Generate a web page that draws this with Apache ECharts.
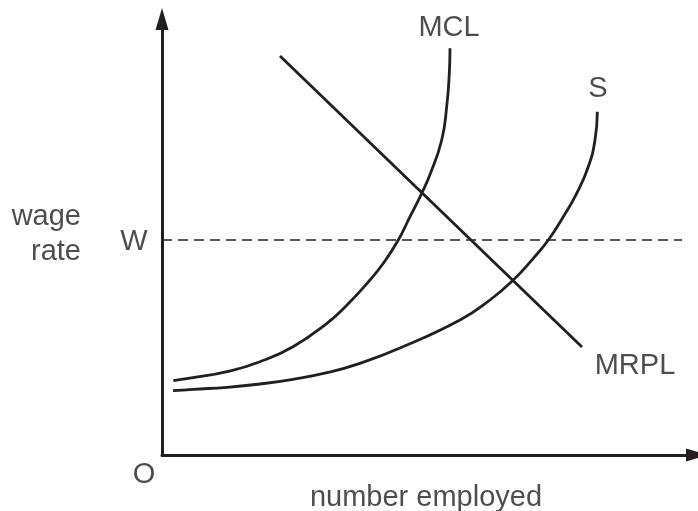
<!DOCTYPE html>
<html>
<head>
<meta charset="utf-8">
<script src="https://cdn.jsdelivr.net/npm/echarts@6/dist/echarts.min.js"></script>
<style>
html,body{margin:0;padding:0;background:#fff;}
#chart{width:698px;height:511px;}
</style>
</head>
<body>
<div id="chart"></div>
<script>
// Schematic units: x = number employed, y = wage rate
var mclCurve = [[2.26,14.86],[6.2,15.46],[13,16.66],[19.6,18.66],[26.2,21.66],[33,26.34],[37,30],[41.6,35],[44.26,38.34],[47.26,43],[49.6,47.66],[51.94,52.34],[53.7,56.34],[55.94,63],[56.94,69.66],[57.46,76.34],[57.6,81.34]];
var sCurve = [[2.2,12.86],[6.2,13.14],[13,13.54],[19.6,14.2],[26.2,15.14],[33,16.46],[39.6,18.34],[47.6,21.4],[59.6,27],[65.6,31],[70.26,35],[74.26,39.34],[77.26,43],[80.26,47.66],[82.94,52.34],[85.26,57.66],[86.6,63],[87.06,68.66]];
var mrplLine = [[23.6,79.8],[84,21.6]];
var wageW = 43;
var wageLineX = [0, 104];
var labelTexts = ['MCL','S','MRPL','W','O','number employed','wage\nrate'];
var labelPos = [[57.4,85.4],[87.2,73.2],[94.6,17.8],[-5.6,42.6],[-3.6,-4],[52.8,-8.6],[-16.2,44.1]];

var ink = '#231f20';
var chart = echarts.init(document.getElementById('chart'));

var labelData = labelTexts.map(function(t, i){
  var d = {value: labelPos[i], name: t};
  if (t === 'wage\nrate') {
    d.label = {align: 'right', lineHeight: 35};
  }
  return d;
});

chart.setOption({
  animation: false,
  grid: {left: 162, right: 1, top: 19, bottom: 56},
  xAxis: {
    type: 'value', min: 0, max: 107,
    axisLine: {show: true, onZero: false, symbol: ['none','triangle'], symbolSize: [13,22], lineStyle: {color: ink, width: 3}},
    axisTick: {show: false}, axisLabel: {show: false}, splitLine: {show: false}
  },
  yAxis: {
    type: 'value', min: 0, max: 87.2,
    axisLine: {show: true, onZero: false, symbol: ['none','triangle'], symbolSize: [13,22], lineStyle: {color: ink, width: 3}},
    axisTick: {show: false}, axisLabel: {show: false}, splitLine: {show: false}
  },
  series: [
    {
      type: 'line', name: 'W', data: wageLineX.map(function(x){return [x, wageW];}),
      symbol: 'none', lineStyle: {color: ink, width: 1.3, type: [10,6]}, silent: true
    },
    {
      type: 'line', name: 'MCL', data: mclCurve, smooth: 0.5,
      symbol: 'none', lineStyle: {color: ink, width: 2.8}, silent: true
    },
    {
      type: 'line', name: 'S', data: sCurve, smooth: 0.5,
      symbol: 'none', lineStyle: {color: ink, width: 2.8}, silent: true
    },
    {
      type: 'line', name: 'MRPL', data: mrplLine,
      symbol: 'none', lineStyle: {color: ink, width: 2.8}, silent: true
    },
    {
      type: 'scatter', name: 'labels', data: labelData, symbolSize: 0, clip: false, silent: true,
      label: {
        show: true, position: 'inside', formatter: function(p){return p.name;},
        color: ink, fontFamily: 'Liberation Sans, Arial, sans-serif', fontSize: 29
      }
    }
  ]
});
</script>
</body>
</html>
